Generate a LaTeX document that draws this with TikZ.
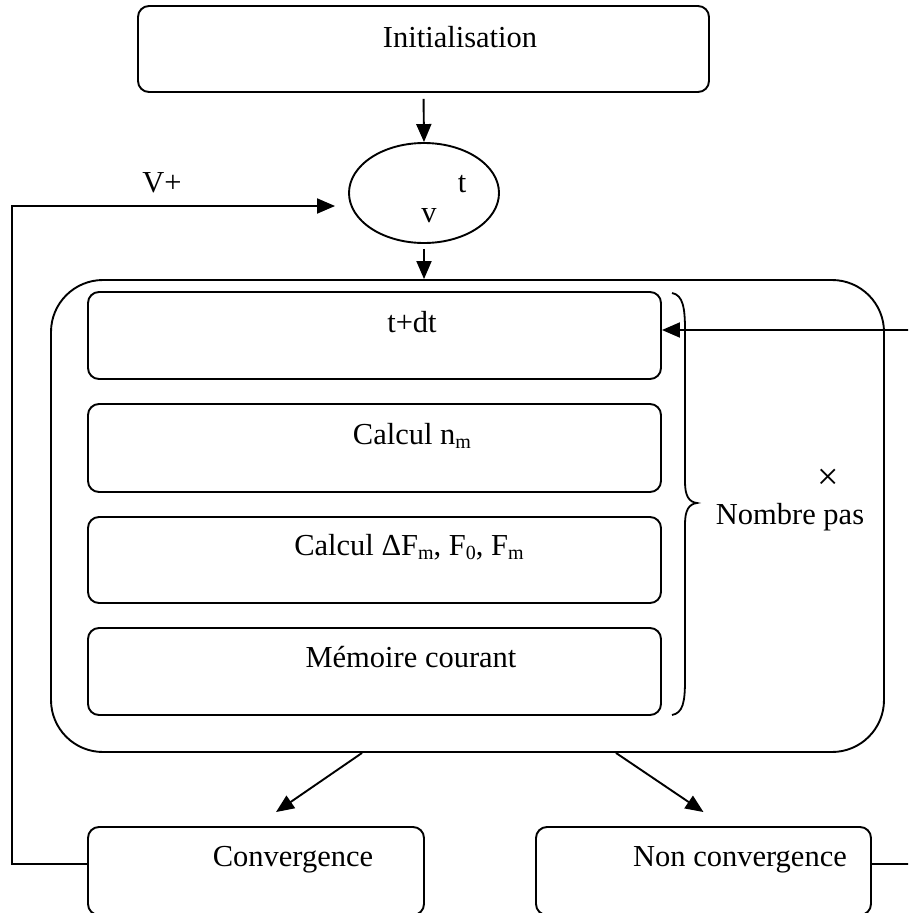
\documentclass[tikz,border=0pt]{standalone}
\usepackage{fontspec}
\setmainfont{Liberation Serif}
\usetikzlibrary{arrows.meta,shapes.geometric}
\newcommand\lowsub[1]{\raisebox{-0.16em}{\fontsize{20}{20}\selectfont #1}}
\begin{document}
\begin{tikzpicture}[x=1pt,y=-1pt,line width=1.9pt,
  box/.style={draw,rounded corners=11pt,inner sep=0pt},
  txt/.style={font=\fontsize{30.5}{36}\selectfont,inner sep=0pt,anchor=base},
  arr/.style={-{Triangle[length=18pt,width=15pt]}}]
\useasboundingbox (0,0) rectangle (908,913);
\clip (0,0) rectangle (908,913);
% top box
\node[box,minimum width=571pt,minimum height=86pt] (init) at (423.5,49) {};
\node[txt] (initT) at (460,47) {Initialisation};
% ellipse
\node[draw,ellipse,inner sep=0pt,minimum width=150pt,minimum height=100pt] (ell) at (424,193) {};
\node[txt] (tT) at (462,192) {t};
\node[txt] (vT) at (429,222) {v};
% big box
\node[draw,rounded corners=52pt,inner sep=0pt,minimum width=833pt,minimum height=472pt] (big) at (467.5,516) {};
% inner boxes
\node[box,minimum width=573pt,minimum height=87pt] (b1) at (374.5,335.5) {};
\node[box,minimum width=573pt,minimum height=88pt] (b2) at (374.5,448) {};
\node[box,minimum width=573pt,minimum height=86pt] (b3) at (374.5,560) {};
\node[box,minimum width=573pt,minimum height=87pt] (b4) at (374.5,671.5) {};
\node[txt] (t1) at (412,332) {t+dt};
\node[txt] (t2) at (412,444) {Calcul n\lowsub{m}};
\node[txt] (t3) at (409,555) {Calcul ΔF\lowsub{m}, F\lowsub{0}, F\lowsub{m}};
\node[txt] (t4) at (411,667) {Mémoire courant};
% brace
\draw[line width=1.8pt] (672,293) .. controls (683,295) and (685,308) .. (685,330)
  -- (685,482) .. controls (685,496) and (689,502) .. (697,503)
  .. controls (689,504) and (685,510) .. (685,524)
  -- (685,680) .. controls (685,702) and (683,713) .. (672,715);
\node[font=\fontsize{38}{40}\selectfont,inner sep=0pt] (times) at (828,479) {×};
\node[txt] (np) at (790,524) {Nombre pas};
% bottom boxes
\node[box,minimum width=336pt,minimum height=88pt] (conv) at (256,871) {};
\node[box,minimum width=335pt,minimum height=88pt] (ncv) at (703.5,871) {};
\node[txt] (convT) at (293,866) {Convergence};
\node[txt] (ncvT) at (740,866) {Non convergence};
% V+ label
\node[txt] (vp) at (162,192) {V+};
% connectors
\draw[arr,shorten <=6pt] (init.south) -- (ell.north);
\draw[arr,shorten <=5pt] (ell.south) -- (ell.south |- big.north);
\draw[arr] ([yshift=7pt]conv.west) -- ++(-75pt,0) |- ([xshift=-13pt,yshift=-13pt]ell.west);
\coordinate (rin) at (915,330);
\draw[arr] (rin) -- (rin -| b1.east);
\draw[arr] ([xshift=-105.5pt]big.south) -- ([xshift=20pt,yshift=14pt]conv.north);
\draw[arr] ([xshift=148.5pt]big.south) -- ([yshift=14pt]ncv.north);
\draw ([yshift=7pt]ncv.east) -- ++(45pt,0);
\end{tikzpicture}
\end{document}
